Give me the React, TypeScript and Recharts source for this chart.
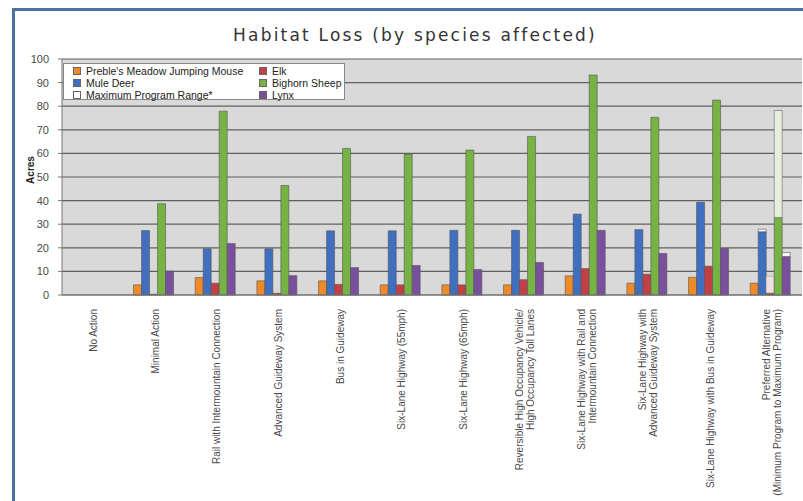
import React from 'react';
import { BarChart, Bar, XAxis, YAxis, CartesianGrid, Legend } from 'recharts';

// categories (multi-line labels use \n)
const categories = [
  'No Action',
  'Minimal Action',
  'Rail with Intermountain Connection',
  'Advanced Guideway System',
  'Bus in Guideway',
  'Six-Lane Highway (55mph)',
  'Six-Lane Highway (65mph)',
  'Reversible High Occupancy Vehicle/\nHigh Occupancy Toll Lanes',
  'Six-Lane Highway with Rail and\nIntermountain Connection',
  'Six-Lane Highway with\nAdvanced Guideway System',
  'Six-Lane Highway with Bus in Guideway',
  'Preferred Alternative\n(Minimum Program to Maximum Program)',
];

const mouse = [0, 4.3, 7.4, 6.0, 6.0, 4.3, 4.3, 4.3, 8.1, 5.0, 7.5, 5.0];
const muleDeer = [0, 27.3, 19.6, 19.6, 27.2, 27.2, 27.4, 27.4, 34.3, 27.7, 39.3, 26.8];
const elk = [0, 0.3, 5.0, 0.7, 4.5, 4.3, 4.3, 6.5, 11.2, 8.8, 12.2, 0.9];
const bighorn = [0, 38.7, 77.9, 46.4, 62.1, 59.7, 61.4, 67.2, 93.2, 75.3, 82.6, 32.8];
const lynx = [0, 10.1, 21.8, 8.2, 11.6, 12.5, 10.8, 13.8, 27.4, 17.6, 19.7, 16.3];

// maximum program values (only the preferred alternative has a range)
const muleDeerMax = [null, null, null, null, null, null, null, null, null, null, null, 27.9];
const elkMax = [null, null, null, null, null, null, null, null, null, null, null, 7.9];
const bighornMax = [null, null, null, null, null, null, null, null, null, null, null, 78.2];
const lynxMax = [null, null, null, null, null, null, null, null, null, null, null, 18.0];

const yTicks = [0, 10, 20, 30, 40, 50, 60, 70, 80, 90, 100];

const COLORS = {
  mouse: '#f08a26',
  deer: '#3f6fbe',
  elk: '#c43f45',
  sheep: '#76b244',
  lynx: '#7a4f9e',
};

const extra = (max: (number | null)[], base: number[], i: number) =>
  max[i] == null ? 0 : (max[i] as number) - base[i];

const data = categories.map((name, i) => ({
  name,
  mouse: mouse[i],
  muleDeer: muleDeer[i],
  elk: elk[i],
  bighorn: bighorn[i],
  lynx: lynx[i],
  muleDeerRange: extra(muleDeerMax, muleDeer, i),
  elkRange: extra(elkMax, elk, i),
  bighornRange: extra(bighornMax, bighorn, i),
  lynxRange: extra(lynxMax, lynx, i),
}));

const axisFont = '"Liberation Sans", Arial, sans-serif';

const CategoryTick = (props: any) => {
  const { x, y, payload } = props;
  const lines = String(payload.value).split('\n');
  const lh = 11;
  const start = 4 - ((lines.length - 1) * lh) / 2;
  return (
    <g transform={`translate(${x},${y})`}>
      <text transform="rotate(-90)" textAnchor="end" fontSize={10} fill="#4a4a4a" fontFamily={axisFont}>
        {lines.map((l, i) => (
          <tspan key={i} x={-6} y={start + i * lh}>
            {l}
          </tspan>
        ))}
      </text>
    </g>
  );
};

const legendItems = [
  { label: "Preble's Meadow Jumping Mouse", color: COLORS.mouse },
  { label: 'Elk', color: COLORS.elk },
  { label: 'Mule Deer', color: COLORS.deer },
  { label: 'Bighorn Sheep', color: COLORS.sheep },
  { label: 'Maximum Program Range*', color: '#ffffff' },
  { label: 'Lynx', color: COLORS.lynx },
];

const LegendBox = () => (
  <div
    style={{
      width: 282,
      height: 37,
      background: '#fff',
      border: '1px solid #888',
      display: 'grid',
      gridTemplateColumns: '186px 94px',
      gridAutoRows: '12px',
      padding: '1px 0 0 9px',
      boxSizing: 'border-box',
      fontFamily: axisFont,
      fontSize: 10.5,
      color: '#222',
    }}
  >
    {legendItems.map((it) => (
      <div key={it.label} style={{ display: 'flex', alignItems: 'center', whiteSpace: 'nowrap' }}>
        <span
          style={{
            display: 'inline-block',
            width: 6,
            height: 6,
            background: it.color,
            border: '1px solid #666',
            marginRight: 5,
          }}
        />
        {it.label}
      </div>
    ))}
  </div>
);

const App: React.FC = () => {
  return (
    <div style={{ position: 'relative', width: 803, height: 501, overflow: 'hidden', background: '#fff' }}>
      <style>{'body{margin:0}'}</style>
      <div
        style={{
          position: 'absolute',
          left: 12,
          top: 8,
          width: 820,
          height: 520,
          border: '3px solid #4a72a3',
          boxSizing: 'border-box',
        }}
      />
      <div
        style={{
          position: 'absolute',
          left: 0,
          top: 25,
          width: 830,
          textAlign: 'center',
          fontFamily: '"DejaVu Sans", Verdana, sans-serif',
          fontSize: 17,
          letterSpacing: 2.2,
          color: '#333',
        }}
      >
        Habitat Loss (by species affected)
      </div>
      <div style={{ position: 'absolute', left: 0, top: 0 }}>
        <BarChart
          width={803}
          height={501}
          data={data}
          margin={{ top: 59, right: 1, left: 22, bottom: 0 }}
          barCategoryGap="16%"
          barGap={0}
        >
          <CartesianGrid vertical={false} stroke="#606060" strokeWidth={1.2} fill="#d9d9d9" />
          <XAxis
            dataKey="name"
            interval={0}
            height={206}
            tick={<CategoryTick />}
            tickLine={false}
            axisLine={{ stroke: '#777' }}
          />
          <YAxis
            width={40}
            domain={[0, 100]}
            ticks={yTicks}
            interval={0}
            tickSize={4}
            tickMargin={9}
            tick={{ fontSize: 11, fill: '#4a4a4a', fontFamily: axisFont }}
            axisLine={{ stroke: '#777' }}
            tickLine={{ stroke: '#777' }}
            label={{
              content: () => (
                <text
                  x={34}
                  y={170}
                  transform="rotate(-90 34 170)"
                  textAnchor="middle"
                  fontSize={10}
                  fontWeight="bold"
                  fill="#222"
                  fontFamily={axisFont}
                >
                  Acres
                </text>
              ),
            }}
          />
          <Legend
            layout="vertical"
            align="center"
            verticalAlign="middle"
            wrapperStyle={{ left: 63, top: 63, width: 284 }}
            content={() => <LegendBox />}
          />
          <Bar dataKey="mouse" stackId="a" fill={COLORS.mouse} stroke="#555" strokeWidth={0.6} isAnimationActive={false} />
          <Bar dataKey="muleDeer" stackId="b" fill={COLORS.deer} stroke="#555" strokeWidth={0.6} isAnimationActive={false} />
          <Bar dataKey="muleDeerRange" stackId="b" fill="#f4f6f8" stroke="#555" strokeWidth={0.6} isAnimationActive={false} />
          <Bar dataKey="elk" stackId="c" fill={COLORS.elk} stroke="#555" strokeWidth={0.6} isAnimationActive={false} />
          <Bar dataKey="elkRange" stackId="c" fill="#f3e1e1" stroke="#aaa" strokeWidth={0.6} isAnimationActive={false} />
          <Bar dataKey="bighorn" stackId="d" fill={COLORS.sheep} stroke="#555" strokeWidth={0.6} isAnimationActive={false} />
          <Bar dataKey="bighornRange" stackId="d" fill="#e6eedc" stroke="#666" strokeWidth={0.6} isAnimationActive={false} />
          <Bar dataKey="lynx" stackId="e" fill={COLORS.lynx} stroke="#555" strokeWidth={0.6} isAnimationActive={false} />
          <Bar dataKey="lynxRange" stackId="e" fill="#f6f6f6" stroke="#555" strokeWidth={0.6} isAnimationActive={false} />
        </BarChart>
      </div>
    </div>
  );
};

export default App;
